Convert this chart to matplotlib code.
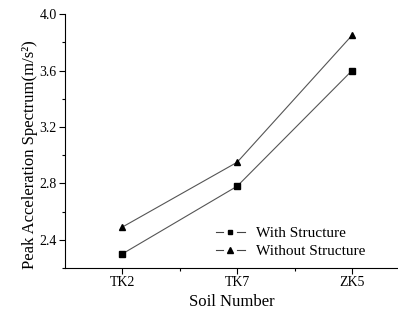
import matplotlib
matplotlib.use("Agg")
import matplotlib.pyplot as plt
from matplotlib.ticker import MultipleLocator, FixedLocator
from matplotlib.lines import Line2D
from matplotlib.legend_handler import HandlerBase

plt.rcParams['font.family'] = ['Liberation Serif', 'DejaVu Serif']

categories = ["TK2", "TK7", "ZK5"]
with_structure = [2.30, 2.78, 3.60]
without_structure = [2.49, 2.95, 3.85]
yticks = [2.4, 2.8, 3.2, 3.6, 4.0]
labels = ["With Structure", "Without Structure"]


class GapHandler(HandlerBase):
    def create_artists(self, legend, orig_handle, xdescent, ydescent,
                       width, height, fontsize, trans):
        y = (height - ydescent) / 2.0
        x0 = -xdescent
        x1 = -xdescent + width
        xm = (x0 + x1) / 2.0
        g = 5.0
        kw = dict(color=orig_handle.get_color(), lw=orig_handle.get_linewidth())
        l1 = Line2D([x0, xm - g], [y, y], **kw)
        l2 = Line2D([xm + g, x1], [y, y], **kw)
        m = Line2D([xm], [y], ls='none', marker=orig_handle.get_marker(),
                   ms=orig_handle.get_markersize(),
                   mfc=orig_handle.get_markerfacecolor(),
                   mec=orig_handle.get_markeredgecolor())
        arts = [l1, l2, m]
        for a in arts:
            a.set_transform(trans)
        return arts


fig = plt.figure(figsize=(3.98, 3.2), dpi=100)
ax = fig.add_axes([0.163, 0.1625, 0.866, 0.7935])

x = list(range(1, len(categories) + 1))
ax.plot(x, with_structure, color='#555555', lw=0.8, marker='s', ms=3.8,
        mfc='black', mec='black')
ax.plot(x, without_structure, color='#555555', lw=0.8, marker='^', ms=4.8,
        mfc='black', mec='black')

ax.set_xlim(0.5, 3.5)
ax.set_ylim(2.2, 4.0)
ax.set_xticks(x)
ax.set_xticklabels(categories)
ax.xaxis.set_minor_locator(FixedLocator([1.5, 2.5, 3.5]))
ax.set_yticks(yticks)
ax.set_yticklabels([f"{v:.1f}" for v in yticks])
ax.yaxis.set_minor_locator(MultipleLocator(0.2))

for s in ['top', 'right']:
    ax.spines[s].set_visible(False)
for s in ['left', 'bottom']:
    ax.spines[s].set_linewidth(0.8)
ax.tick_params(which='major', direction='out', length=4, width=0.8, labelsize=10, pad=2)
ax.tick_params(which='minor', direction='out', length=2.5, width=0.8)

ax.set_xlabel('Soil Number', fontsize=12)
ax.xaxis.set_label_coords(0.4845, -0.102)
ax.xaxis.label.set_va('top')
ax.set_ylabel('Peak Acceleration Spectrum(m/s\u00b2)', fontsize=12)
ax.yaxis.set_label_coords(-0.078, 0.445)

handles = [
    Line2D([], [], color='#444444', lw=0.8, marker='s', ms=3.2, mfc='black',
           mec='black'),
    Line2D([], [], color='#444444', lw=0.8, marker='^', ms=4.2, mfc='black',
           mec='black'),
]
leg = ax.legend(handles, labels, loc='upper left', bbox_to_anchor=(0.438, 0.164),
                frameon=False, fontsize=11, handlelength=1.9, handletextpad=0.72,
                labelspacing=0.3, borderaxespad=0, borderpad=0,
                handler_map={Line2D: GapHandler()})

fig.savefig('out.png', dpi=100)
